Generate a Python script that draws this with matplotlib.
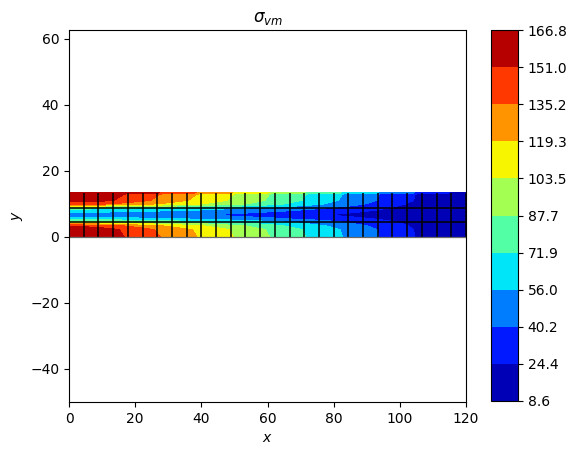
import numpy as np
import matplotlib
matplotlib.use("Agg")
import matplotlib.pyplot as plt

# Beam stations along x (27 elements over 120)
x_stations = [0, 4.44, 8.89, 13.33, 17.78, 22.22, 26.67, 31.11, 35.56, 40, 44.44, 48.89, 53.33, 57.78,
	62.22, 66.67, 71.11, 75.56, 80, 84.44, 88.89, 93.33, 97.78, 102.22, 106.67, 111.11, 115.56, 120]
y_rows = [0, 2.22, 3.33, 4.44, 5.55, 6.67, 7.78, 8.89, 10, 11.11, 13, 13.33]

# von Mises stress, one list per y row
s_000 = [166, 166, 162, 156, 149.4, 143, 136.6, 130.2, 123.8, 117.4, 111, 104.6, 98.2, 91.8, 85.4, 79, 72.6, 66.2, 59.8, 53.4, 47, 40.6, 34.2, 27.8, 21.4, 15, 12, 10]
s_222 = [163, 163, 159, 154, 147, 141, 134, 128, 122, 115, 109, 103, 97, 90, 84, 78, 71, 65, 59, 52, 46, 40, 34, 27, 21, 15, 12, 10]
s_333 = [148, 148, 145, 140, 134, 128, 122, 116, 110, 105, 99, 93, 88, 82, 76, 70, 65, 59, 53, 47, 42, 36, 30, 25, 19, 14, 11.5, 10]
s_444 = [100, 100, 98, 95, 92, 89, 86, 83, 80, 77, 73, 70, 67, 63, 60, 56, 52, 48, 44, 39, 35, 30, 26, 22, 17, 14, 12, 10]
s_555 = [62, 62, 61, 60, 59, 58, 57, 56, 54, 52, 50, 48, 46, 44, 42, 39, 37, 34, 32, 29, 26, 23, 20, 17, 15, 13, 11, 10]
s_667 = [48, 48, 47, 47, 46, 45, 44, 43, 42, 40.5, 39, 37, 35.5, 33, 32, 30, 28, 25.5, 23, 21, 19, 17, 15.5, 14, 13, 12, 11, 10]
s_778 = [60, 60, 59, 58, 57, 56, 55, 54, 53, 51, 49, 47, 45, 43, 41, 39, 36, 34, 31, 28, 25, 22, 19, 16, 14, 12, 11, 10]
s_889 = [80, 80, 79, 77, 75, 73, 71, 69, 67, 65, 62, 60, 58, 55, 52, 49, 46, 43, 39, 36, 32, 28, 24, 20, 16, 13, 11, 10]
s_100 = [140, 140, 138, 134, 129, 124, 119, 114, 109, 104, 98, 93, 88, 82, 76, 70, 64, 58, 52, 47, 41, 35, 30, 24, 19, 14, 11.5, 10]
s_111 = [160, 160, 157, 151.5, 145, 139, 132.5, 126.5, 120, 114, 108, 102, 96, 90, 83, 77, 71, 65, 58, 52, 46, 40, 33, 27, 21, 15, 12, 10]
s_130 = s_000
s_133 = [166.5, 166.5, 166.5, 166.5, 165.2, 158.8, 152.4, 146, 139.6, 133.2, 126.8, 120.4, 114, 107.6, 101.2, 94.8, 88.4, 82, 75.6, 69.2, 62.8, 56.4, 50, 43.6, 37.2, 30.8, 24, 18]

levels = [8.6, 24.4, 40.2, 56.0, 71.9, 87.7, 103.5, 119.3, 135.2, 151.0, 166.8]
x_mesh = x_stations
y_mesh = [0, 4.44, 8.89, 13.33]

fig = plt.figure(figsize=(5.68, 4.53), dpi=100)
ax = fig.add_axes([69 / 568, 1 - 402 / 453, 397 / 568, 372 / 453])
cax = fig.add_axes([491 / 568, 1 - 401 / 453, 27 / 568, 371 / 453])

stress = np.array([s_000, s_222, s_333, s_444, s_555, s_667, s_778, s_889, s_100, s_111, s_130, s_133])
cf = ax.contourf(x_stations, y_rows, stress, levels=levels, cmap="jet")

# Mesh lines on top of the contours
for xm in x_mesh:
	ax.plot([xm, xm], [y_mesh[0], y_mesh[-1]], color="black", lw=1.1, solid_capstyle="butt")
for ym in y_mesh[1:-1]:
	ax.plot([x_mesh[0], x_mesh[-1]], [ym, ym], color="black", lw=1.1, solid_capstyle="butt")
ax.plot([x_mesh[0], x_mesh[-1]], [0, 0], color="dimgray", lw=0.9)

ax.set_xlim(0, 120)
ax.set_ylim(-50, 62.7)
ax.set_xlabel("$x$")
ax.set_ylabel("$y$")
ax.set_title(r"$\sigma_{vm}$")

cb = fig.colorbar(cf, cax=cax, ticks=levels, format="%.1f")

plt.savefig("out.png", dpi=100)
